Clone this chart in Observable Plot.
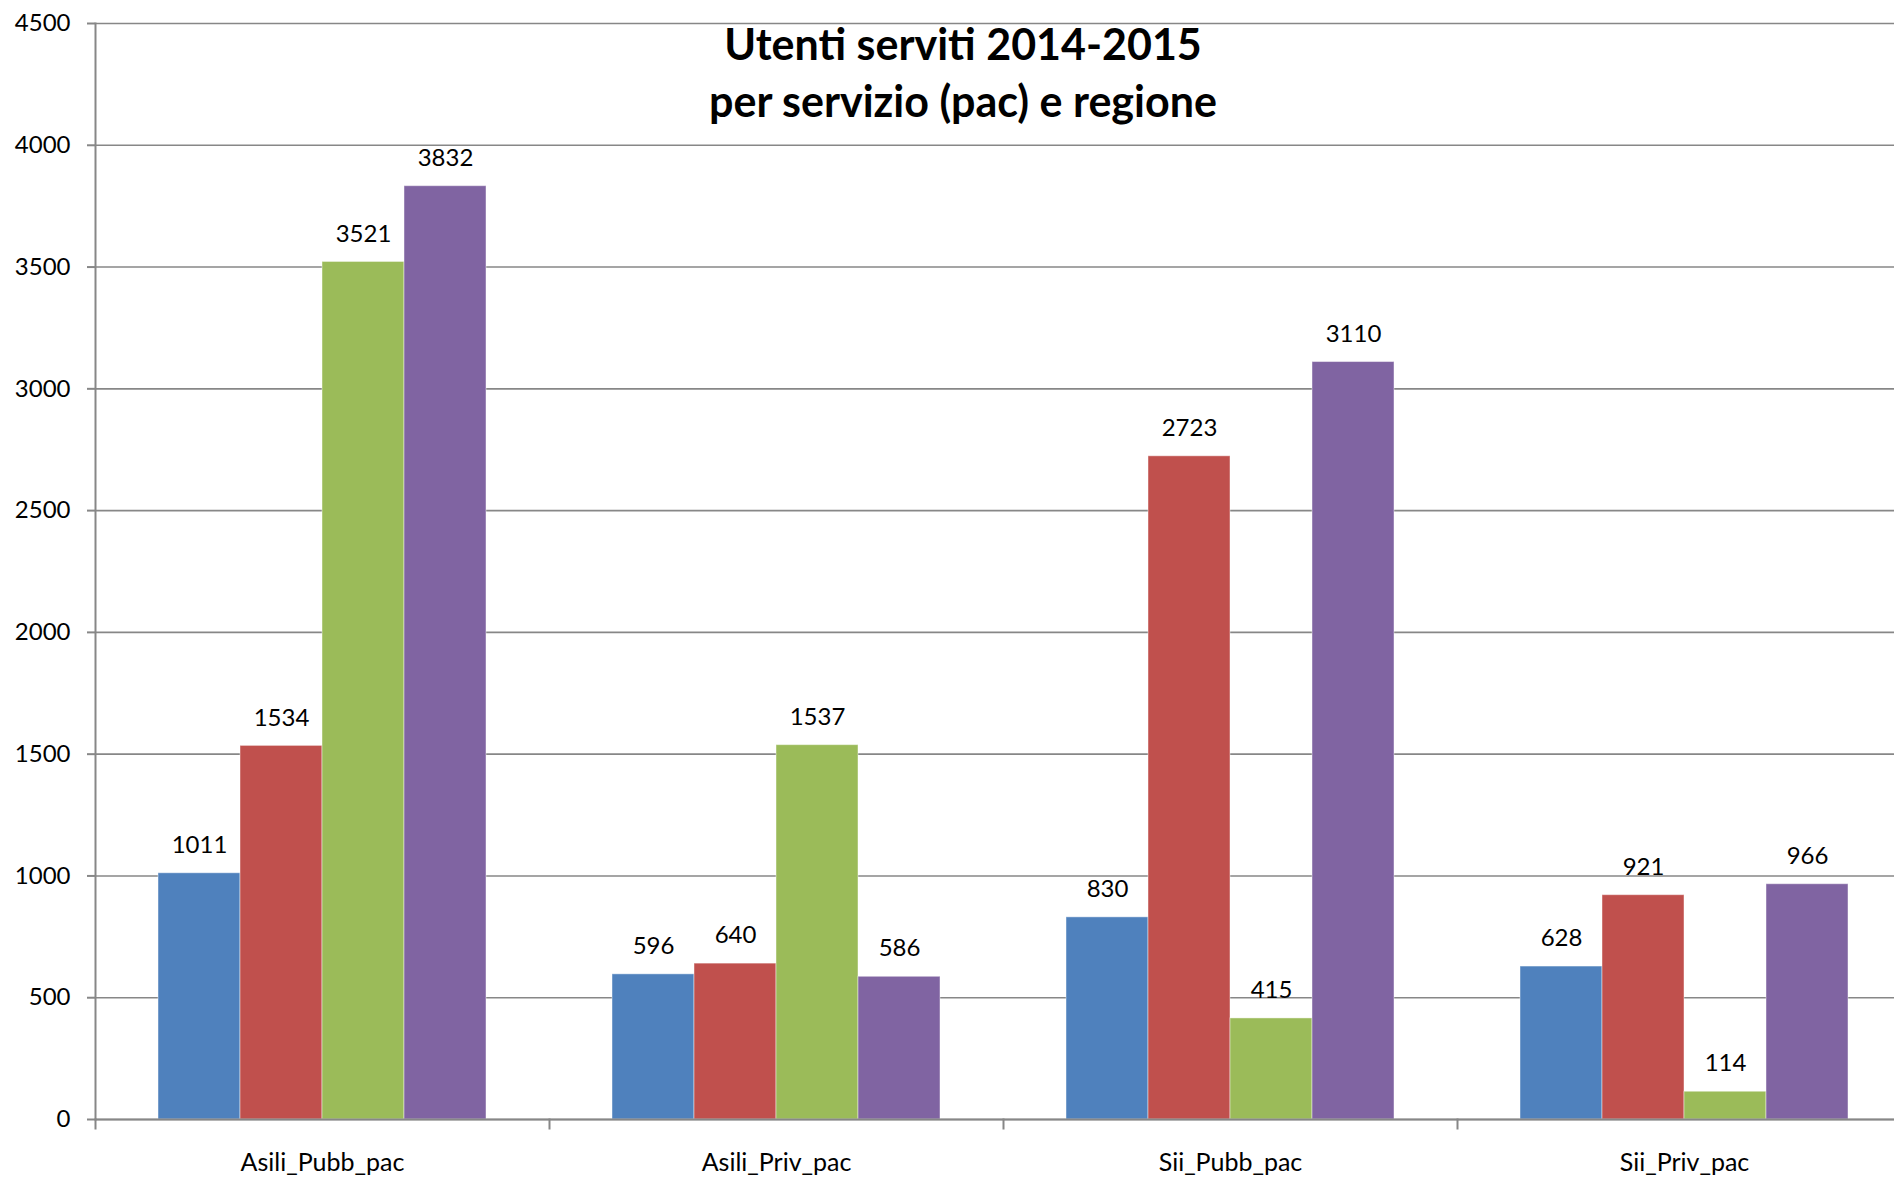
<!DOCTYPE html>
<html>
<head>
<meta charset="utf-8">
<script src="https://cdn.jsdelivr.net/npm/d3@7"></script>
<script src="https://cdn.jsdelivr.net/npm/@observablehq/plot@0.6"></script>
<style>
  html, body { margin: 0; padding: 0; background: #fff; overflow: hidden; }
  #wrap { position: relative; width: 1894px; height: 1177px; }
  #title {
    position: absolute; left: 563px; width: 800px; top: 15px;
    text-align: center; font-family: Lato, "Open Sans", sans-serif;
    font-weight: 700; font-size: 43px; line-height: 57px; color: #000;
    background: transparent;
  }
  svg { overflow: hidden; }
</style>
</head>
<body>
<div id="wrap">
  <div id="chart"></div>
  <div id="title">Utenti serviti 2014-2015<br>per servizio (pac) e regione</div>
</div>
<script>
const categories = ["Asili_Pubb_pac", "Asili_Priv_pac", "Sii_Pubb_pac", "Sii_Priv_pac"];
const seriesNames = ["Serie1", "Serie2", "Serie3", "Serie4"];
const serie1 = [1011, 596, 830, 628];
const serie2 = [1534, 640, 2723, 921];
const serie3 = [3521, 1537, 415, 114];
const serie4 = [3832, 586, 3110, 966];
const colors = ["#4F81BD", "#C0504D", "#9BBB59", "#8064A2"];
const yTicks = [0, 500, 1000, 1500, 2000, 2500, 3000, 3500, 4000, 4500];

const allSeries = [serie1, serie2, serie3, serie4];
const data = [];
categories.forEach((c, i) => {
  seriesNames.forEach((s, j) => {
    data.push({category: c, series: s, value: allSeries[j][i]});
  });
});

const gridColor = "#878787";
const font = "Lato, 'Open Sans', sans-serif";

const chart = Plot.plot({
  width: 1894,
  height: 1177,
  marginLeft: 94,
  marginRight: -17,
  marginTop: 23,
  marginBottom: 58,
  style: {fontFamily: font, fontSize: "24px", color: "#000", background: "#fff"},
  fx: {domain: categories, padding: 0, label: null},
  x: {domain: seriesNames, paddingInner: 0, paddingOuter: 0.758, axis: null},
  y: {domain: [0, 4500], label: null},
  color: {domain: seriesNames, range: colors},
  marks: [
    Plot.gridY(yTicks, {stroke: gridColor, strokeOpacity: 1, strokeWidth: 1.6}),
    Plot.barY(data, {fx: "category", x: "series", y: "value", fill: "series", stroke: "#ffffff", strokeOpacity: 0.45, strokeWidth: 1}),
    Plot.text(data, {fx: "category", x: "series", y: "value", text: d => String(d.value), dy: -28, lineAnchor: "middle", fontSize: 24, fill: "#000"}),
    Plot.ruleY([0], {stroke: gridColor, strokeWidth: 2}),
    Plot.frame({anchor: "left", stroke: gridColor, strokeWidth: 2, facetAnchor: "left"}),
    Plot.frame({anchor: "left", stroke: gridColor, strokeWidth: 2, insetTop: 1096, insetBottom: -9}),
    Plot.axisY(yTicks, {tickSize: 8, tickPadding: 17, tickFormat: d => String(d), stroke: gridColor, strokeWidth: 2, fill: "#000", fontSize: 24, label: null}),
    Plot.axisFx({anchor: "bottom", tickSize: 0, tickPadding: 34, fontSize: 25, fill: "#000", label: null})
  ]
});
document.getElementById("chart").appendChild(chart);
</script>
</body>
</html>
